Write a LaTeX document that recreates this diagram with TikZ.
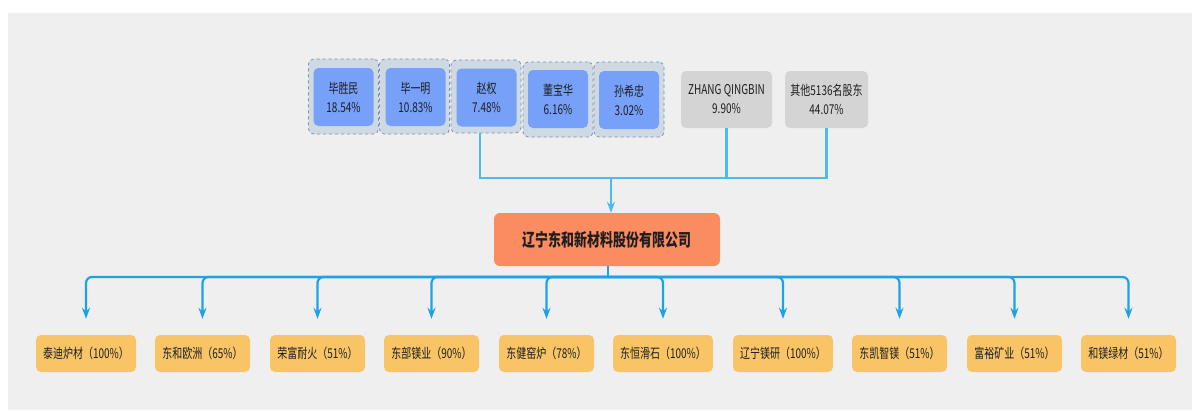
\documentclass[tikz,border=0pt]{standalone}
\usepackage{fontspec}
\setmainfont{Noto Sans CJK SC}[FakeStretch=0.74]
\usetikzlibrary{arrows.meta}
\definecolor{bggray}{HTML}{EFEFEF}
\definecolor{outerfill}{HTML}{CFD9E3}
\definecolor{outerdash}{HTML}{7A93AA}
\definecolor{innerblue}{HTML}{77A0F8}
\definecolor{sharegray}{HTML}{D4D4D4}
\definecolor{corange}{HTML}{FA8C5F}
\definecolor{subyellow}{HTML}{F8C466}
\definecolor{linetop}{HTML}{4DBBF0}
\definecolor{linebot}{HTML}{1AA3E8}
\definecolor{txt}{HTML}{1E1E1E}
\tikzset{
  outerbox/.style={draw=outerdash, dashed, fill=outerfill, rounded corners=5pt, line width=0.8pt,
    minimum width=70pt, minimum height=75pt, inner sep=0pt},
  holder/.style={fill=innerblue, rounded corners=5pt, minimum width=60pt, minimum height=58pt,
    inner sep=0pt, align=center, text=txt, font=\fontsize{13.5}{19}\selectfont},
  grayholder/.style={fill=sharegray, rounded corners=5pt, minimum height=57pt,
    inner sep=0pt, align=center, text=txt, font=\fontsize{13.5}{19}\selectfont},
  company/.style={fill=corange, rounded corners=6pt, minimum width=226pt, minimum height=53pt,
    inner sep=0pt, text=txt, font=\fontsize{17.5}{20}\selectfont\bfseries},
  sub/.style={fill=subyellow, rounded corners=5pt, minimum height=37pt, inner sep=0pt,
    text=txt, font=\fontsize{13.5}{15}\selectfont},
  topline/.style={draw=linetop, line width=2.4pt},
  botline/.style={draw=linebot, line width=2.2pt, rounded corners=6pt},
  tip/.style={-{Stealth[length=11pt,width=8pt]}}
}
\begin{document}
\begin{tikzpicture}[x=1pt,y=-1pt]
\useasboundingbox (0,0) rectangle (1192,410);
\fill[white] (0,0) rectangle (1192,410);
\fill[bggray] (8,13) rectangle (1192,410);

% shareholders
\node[outerbox] (o1) at (343.5,96.5) {};
\node[outerbox] (o2) at (414.5,96.5) {};
\node[outerbox, minimum height=73pt] (o3) at (486,96.5) {};
\node[outerbox] (o4) at (558,99.5) {};
\node[outerbox] (o5) at (629,99.5) {};
\node[holder] (h1) at (343.5,97) {毕胜民\\18.54\%};
\node[holder] (h2) at (415.5,97) {毕一明\\10.83\%};
\node[holder] (h3) at (486.5,97.5) {赵权\\7.48\%};
\node[holder] (h4) at (558,99) {董宝华\\6.16\%};
\node[holder] (h5) at (629,100) {孙希忠\\3.02\%};
\node[grayholder, minimum width=91pt] (zq) at (726.5,99.5) {ZHANG QINGBIN\\9.90\%};
\node[grayholder, minimum width=83pt] (ot) at (826.5,99.5) {其他5136名股东\\44.07\%};

% company
\node[company] (co) at (607,239.5) {辽宁东和新材料股份有限公司};

% subsidiaries
\node[sub, minimum width=100pt] (c1) at (86,353.5) {泰迪炉材（100\%）};
\node[sub, minimum width=95pt] (c2) at (202.5,353.5) {东和欧洲（65\%）};
\node[sub, minimum width=95pt] (c3) at (317.5,353.5) {荣富耐火（51\%）};
\node[sub, minimum width=95pt] (c4) at (431.5,353.5) {东部镁业（90\%）};
\node[sub, minimum width=95pt] (c5) at (546.5,353.5) {东健窑炉（78\%）};
\node[sub, minimum width=100pt] (c6) at (663,353.5) {东恒滑石（100\%）};
\node[sub, minimum width=100pt] (c7) at (783,353.5) {辽宁镁研（100\%）};
\node[sub, minimum width=95pt] (c8) at (899.5,353.5) {东凯智镁（51\%）};
\node[sub, minimum width=95pt] (c9) at (1014.5,353.5) {富裕矿业（51\%）};
\node[sub, minimum width=95pt] (c10) at (1128.5,353.5) {和镁绿材（51\%）};

% top connectors
\coordinate (j) at (611,178);
\draw[topline] ([xshift=-6pt]o3.south) |- (zq.south |- j);
\draw[topline] (zq.south) -- (zq.south |- j);
\draw[topline] (ot.south) |- (zq.south |- j);
\draw[topline, tip] (j) -- (j |- co.north);

% bottom connectors
\coordinate (hb) at (608,277);
\draw[draw=linebot, line width=2.2pt] ([xshift=1pt]co.south) -- (hb);
\foreach \c in {c1,c2,c3,c4,c5,c6,c7,c8,c9,c10}{
  \draw[botline, tip, shorten >=16pt] (hb) -| (\c.north);
}
\end{tikzpicture}
\end{document}
